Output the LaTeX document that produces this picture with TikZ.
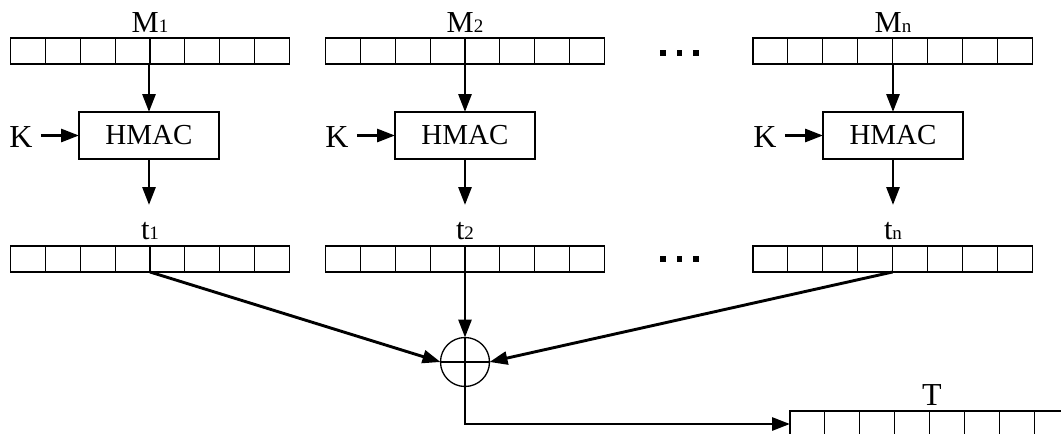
\documentclass[tikz,border=0pt]{standalone}
\usepackage{fontspec}
\setmainfont{Liberation Serif}
\usetikzlibrary{arrows.meta}
\begin{document}
\begin{tikzpicture}[x=1pt,y=-1pt,
  reg/.style={draw, line width=1.1pt, minimum width=279.2pt, minimum height=26pt, inner sep=0pt, outer sep=0pt},
  hbox/.style={draw, line width=1.1pt, minimum width=140pt, minimum height=47pt, inner sep=0pt, outer sep=0pt, font=\fontsize{29}{29}\selectfont},
  lbl/.style={anchor=base, inner sep=0pt, font=\fontsize{30.5}{30.5}\selectfont},
  klbl/.style={anchor=base, inner sep=0pt, font=\fontsize{32}{32}\selectfont},
  arr/.style={line width=2.9pt, -{Triangle[length=18pt,width=13pt]}},
  xorc/.style={draw, circle, line width=1.3pt, minimum size=49pt, inner sep=0pt, outer sep=0pt}
]
\newcommand{\sbs}[1]{{\fontsize{19}{19}\selectfont #1}}
\useasboundingbox (0,0) rectangle (1061,434);
\clip (0,0) rectangle (1061,434);
\fill[white] (0,0) rectangle (1061,434);

% registers
\node[reg] (M1) at (150,51) {};
\node[reg] (M2) at (465,51) {};
\node[reg] (Mn) at (892.6,51) {};
\node[reg] (T1) at (150,259) {};
\node[reg] (T2) at (465,259) {};
\node[reg] (Tn) at (892.6,259) {};
\node[reg] (TT) at (929.6,424) {};
\foreach \r in {M1,M2,Mn,T1,T2,Tn,TT}{
  \foreach \k in {1,...,7}{
    \draw[line width=1.1pt] ([xshift=\k*34.9pt]\r.south west) -- ([xshift=\k*34.9pt]\r.north west);
  }
}

% labels
\node[lbl] (lM1) at (150,32.3) {M\sbs{1}};
\node[lbl] (lM2) at (465,32.3) {M\sbs{2}};
\node[lbl] (lMn) at (893,32.3) {M\sbs{n}};
\node[lbl] (lT1) at (150,239.3) {t\sbs{1}};
\node[lbl] (lT2) at (465,239.3) {t\sbs{2}};
\node[lbl] (lTn) at (893,239.3) {t\sbs{n}};
\node[klbl] (lTT) at (932,405) {T};

% HMAC boxes
\node[hbox] (H1) at (149,135.5) {HMAC};
\node[hbox] (H2) at (465,135.5) {HMAC};
\node[hbox] (Hn) at (893,135.5) {HMAC};

% K inputs
\node[klbl] (K1) at (21,147) {K};
\node[klbl] (K2) at (337,147) {K};
\node[klbl] (Kn) at (765,147) {K};
\draw[arr] ([xshift=8pt]K1.east |- H1.west) -- (H1.west);
\draw[arr] ([xshift=8pt]K2.east |- H2.west) -- (H2.west);
\draw[arr] ([xshift=8pt]Kn.east |- Hn.west) -- (Hn.west);

% vertical arrows
\draw[arr] (M1.south -| H1.north) -- (H1.north);
\draw[arr] (M2.south) -- (H2.north);
\draw[arr] (Mn.south -| Hn.north) -- (Hn.north);
\coordinate (e1) at (149,205);
\coordinate (e2) at (465,205);
\coordinate (en) at (893,205);
\draw[arr] (H1.south) -- (e1);
\draw[arr] (H2.south) -- (e2);
\draw[arr] (Hn.south) -- (en);

% dots
\foreach \xx in {663,679.5,696}{
  \fill (\xx-2.6,50.4) rectangle (\xx+2.6,55.6);
  \fill (\xx-2.6,256.4) rectangle (\xx+2.6,261.6);
}

% XOR
\node[xorc] (X) at (465,362) {};
\draw[line width=1.3pt] (X.north) -- (X.south) (X.west) -- (X.east);
\draw[arr] (T1.south) -- (X.west);
\draw[arr] (T2.south) -- (X.north);
\draw[arr] (Tn.south) -- (X.east);
\draw[arr] (X.south) |- (TT.west);
\end{tikzpicture}
\end{document}
